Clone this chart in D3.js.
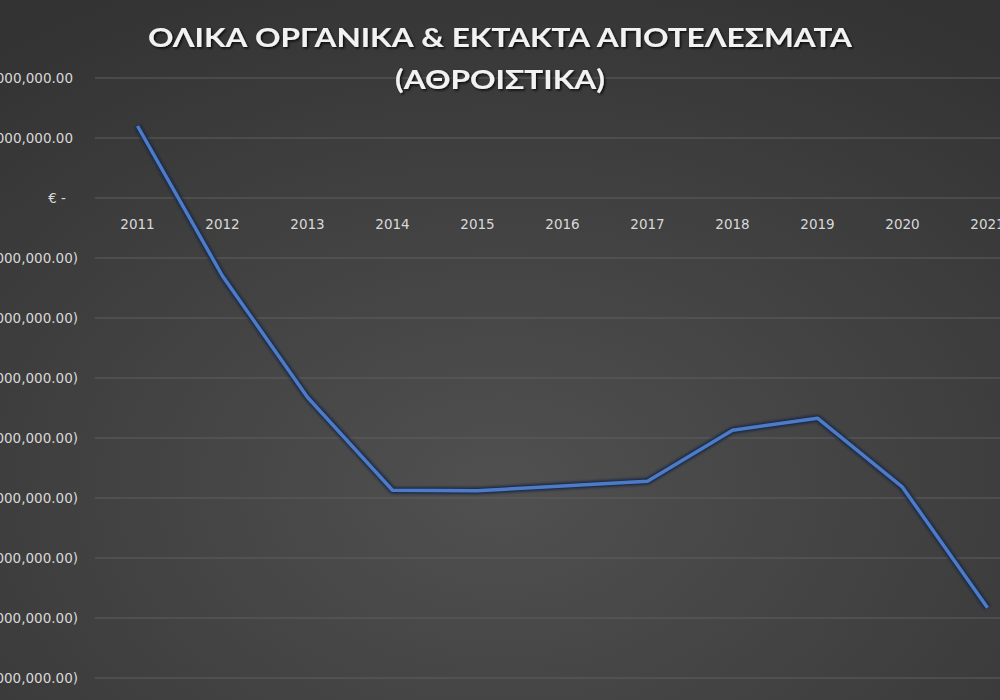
<!DOCTYPE html>
<html lang="el">
<head>
  <meta charset="UTF-8">
  <title>Ολικά οργανικά & έκτακτα αποτελέσματα</title>
  <style>
    body { margin: 0; background: #3a3a3a; overflow: hidden; }
    svg { width: 1000px; height: 700px; display: block; }
    text { font-family: "DejaVu Sans", sans-serif; }
    .title { font-family: Lato, "Open Sans", sans-serif; }
  </style>
</head>
<body>
  <svg></svg>

  <script src="https://d3js.org/d3.v7.min.js"></script>
  <script>
    // data
    const years = ["2011", "2012", "2013", "2014", "2015", "2016", "2017", "2018", "2019", "2020", "2021"];
    const results = [1200000, -1300000, -3320000, -4870000, -4880000, -4800000, -4720000, -3870000, -3670000, -4820000, -6830000];
    const yTicks = [2000000, 1000000, 0, -1000000, -2000000, -3000000, -4000000, -5000000, -6000000, -7000000, -8000000];
    const titleLines = ["ΟΛΙΚΑ ΟΡΓΑΝΙΚΑ & ΕΚΤΑΚΤΑ ΑΠΟΤΕΛΕΣΜΑΤΑ", "(ΑΘΡΟΙΣΤΙΚΑ)"];

    const width = 1000, height = 700;
    const svg = d3.select("svg").attr("viewBox", [0, 0, width, height]);

    // background: darker edges, lighter centre
    const defs = svg.append("defs");
    const bg = defs.append("radialGradient").attr("id", "bg")
      .attr("cx", "50%").attr("cy", "70%").attr("r", "80%");
    bg.append("stop").attr("offset", "0%").attr("stop-color", "#505050");
    bg.append("stop").attr("offset", "100%").attr("stop-color", "#333333");
    defs.append("filter").attr("id", "blur")
      .append("feGaussianBlur").attr("stdDeviation", 1.2);
    const ts = defs.append("filter").attr("id", "tshadow");
    ts.append("feDropShadow").attr("dx", 1.5).attr("dy", 1.5)
      .attr("stdDeviation", 1.2).attr("flood-color", "#000").attr("flood-opacity", 0.8);

    svg.append("rect").attr("width", width).attr("height", height).attr("fill", "url(#bg)");

    const x = d3.scaleBand().domain(years).range([95, 1030]);
    const y = d3.scaleLinear().domain([-8000000, 2000000]).range([678, 78]);

    // gridlines
    svg.append("g")
      .selectAll("line")
      .data(yTicks)
      .join("line")
      .attr("x1", 95).attr("x2", width)
      .attr("y1", d => y(d)).attr("y2", d => y(d))
      .attr("stroke", "#5f5f5f")
      .attr("stroke-width", 1.2);

    // y axis labels (accounting style, cut at the left edge as in the picture)
    const num = d3.format(",.2f");
    const yLabel = d => d === 0 ? "€ -" : d > 0 ? "€ " + num(d) : "€ (" + num(-d) + ")";
    svg.append("g")
      .selectAll("text")
      .data(yTicks)
      .join("text")
      .attr("x", d => d === 0 ? 66 : d > 0 ? 73 : 78)
      .attr("y", d => y(d) + 5)
      .attr("text-anchor", "end")
      .attr("fill", "#d9d9d9")
      .attr("font-size", 13.5)
      .text(yLabel);

    // x axis labels sit just under the zero line
    svg.append("g")
      .selectAll("text")
      .data(years)
      .join("text")
      .attr("x", d => x(d) + x.bandwidth() / 2)
      .attr("y", y(0) + 31)
      .attr("text-anchor", "middle")
      .attr("fill", "#d9d9d9")
      .attr("font-size", 13.5)
      .text(d => d);

    const line = d3.line()
      .x((d, i) => x(years[i]) + x.bandwidth() / 2)
      .y(d => y(d));

    svg.append("path")
      .datum(results)
      .attr("d", line)
      .attr("fill", "none")
      .attr("stroke", "#1c2a44")
      .attr("stroke-width", 7)
      .attr("stroke-linejoin", "round")
      .attr("filter", "url(#blur)");

    svg.append("path")
      .datum(results)
      .attr("d", line)
      .attr("fill", "none")
      .attr("stroke", "#4d7bc8")
      .attr("stroke-width", 3.5)
      .attr("stroke-linejoin", "round");

    // title
    svg.append("g")
      .selectAll("text")
      .data(titleLines)
      .join("text")
      .attr("class", "title")
      .attr("x", 500)
      .attr("y", (d, i) => 47 + i * 42)
      .attr("text-anchor", "middle")
      .attr("fill", "#f2f2f2")
      .attr("font-size", 27)
      .attr("font-weight", "bold")
      .attr("textLength", (d, i) => i === 0 ? 704 : 210)
      .attr("lengthAdjust", "spacingAndGlyphs")
      .attr("filter", "url(#tshadow)")
      .text(d => d);
  </script>
</body>
</html>
